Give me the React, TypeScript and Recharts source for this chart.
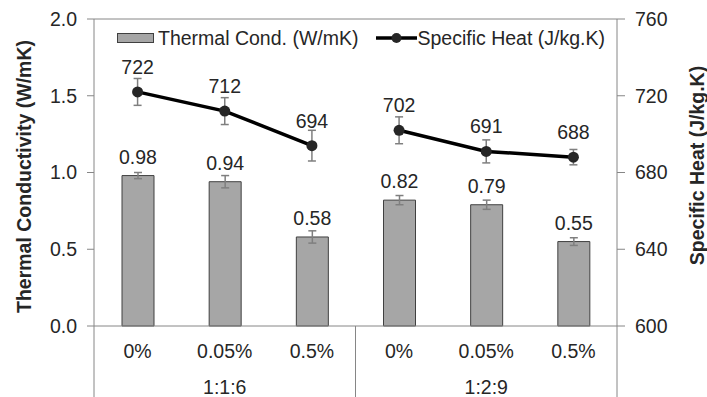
import {
  Bar,
  ComposedChart,
  ErrorBar,
  LabelList,
  Line,
  ReferenceLine,
  XAxis,
  YAxis,
} from "recharts";

const CATEGORIES = ["0%", "0.05%", "0.5%", "0%", "0.05%", "0.5%"];
const GROUPS = ["1:1:6", "1:1:6", "1:1:6", "1:2:9", "1:2:9", "1:2:9"];
const THERMAL_COND = [0.98, 0.94, 0.58, 0.82, 0.79, 0.55];
const THERMAL_ERR = [0.02, 0.04, 0.04, 0.03, 0.03, 0.025];
const SPECIFIC_HEAT = [722, 712, 694, 702, 691, 688];
const HEAT_ERR = [7, 7, 8, 7, 6, 4];
const LEFT_TICKS = [0, 0.5, 1, 1.5, 2];
const RIGHT_TICKS = [600, 640, 680, 720, 760];

const W = 707;
const H = 397;
const LEFT_W = 94;
const RIGHT_W = 90;
const XAXIS_H = 71;
const BAND = (W - LEFT_W - RIGHT_W) / CATEGORIES.length;

const AXIS = "#868686";
const TEXT = "#262626";
const FONT = 19.5;

// uma linha por grupo: a série de calor específico não liga 1:1:6 com 1:2:9
const groupNames = Array.from(new Set(GROUPS));
const data = CATEGORIES.map((cat, i) => {
  const row: Record<string, string | number | null> = {
    cat,
    tc: THERMAL_COND[i],
    tcErr: THERMAL_ERR[i],
  };
  groupNames.forEach((g, gi) => {
    row[`heat${gi}`] = GROUPS[i] === g ? SPECIFIC_HEAT[i] : null;
    row[`heatErr${gi}`] = GROUPS[i] === g ? HEAT_ERR[i] : null;
  });
  return row;
});

function CategoryTick(props: any) {
  const { x, y, payload } = props;
  const i: number = payload.index ?? props.index;
  const half = BAND / 2;
  const first = i === 0 || GROUPS[i] !== GROUPS[i - 1];
  let groupEnd = i;
  while (groupEnd + 1 < GROUPS.length && GROUPS[groupEnd + 1] === GROUPS[i]) groupEnd++;
  const groupCenter = x + ((groupEnd - i) / 2) * BAND;
  return (
    <g>
      <text x={x} y={y + 32} textAnchor="middle" fontSize={FONT} fill={TEXT}>
        {payload.value}
      </text>
      {first && (
        <>
          <line x1={x - half} x2={x - half} y1={y} y2={y + XAXIS_H} stroke={AXIS} />
          <text x={groupCenter} y={y + 68} textAnchor="middle" fontSize={FONT} fill={TEXT}>
            {GROUPS[i]}
          </text>
        </>
      )}
      {i === GROUPS.length - 1 && (
        <line x1={x + half} x2={x + half} y1={y} y2={y + XAXIS_H} stroke={AXIS} />
      )}
    </g>
  );
}

function AxisTitle({ viewBox, value, dx, dy }: any) {
  const cx = viewBox.x + dx;
  const cy = viewBox.y + viewBox.height / 2 + dy;
  return (
    <text
      x={cx}
      y={cy}
      transform={`rotate(-90 ${cx} ${cy})`}
      textAnchor="middle"
      dominantBaseline="central"
      fontSize={19.5}
      fontWeight="bold"
      fill={TEXT}
    >
      {value}
    </text>
  );
}

function LegendBox() {
  return (
    <div
      style={{
        position: "absolute",
        top: 28,
        left: 117,
        display: "flex",
        alignItems: "center",
        fontSize: FONT,
        color: TEXT,
        whiteSpace: "nowrap",
        height: 20,
      }}
    >
      <svg width={37} height={10} style={{ marginRight: 4 }}>
        <rect x={0.5} y={0.5} width={36} height={9} fill="#a6a6a6" stroke="#404040" />
      </svg>
      <span>Thermal Cond. (W/mK)</span>
      <svg width={41} height={12} style={{ marginLeft: 18 }}>
        <line x1={0} x2={41} y1={6} y2={6} stroke="#000" strokeWidth={3.5} />
        <circle cx={20.5} cy={6} r={5} fill="#262626" />
      </svg>
      <span>Specific Heat (J/kg.K)</span>
    </div>
  );
}

export default function App() {
  return (
    <div
      style={{
        position: "absolute",
        left: 0,
        top: 0,
        width: W,
        height: H,
        background: "#fff",
        fontFamily: '"Liberation Sans", Arial, sans-serif',
      }}
    >
      <ComposedChart width={W} height={H} data={data} margin={{ top: 19, right: 0, bottom: 0, left: 0 }}>
        <XAxis
          dataKey="cat"
          height={XAXIS_H}
          axisLine={{ stroke: AXIS }}
          tickLine={false}
          tickSize={0}
          tickMargin={0}
          interval={0}
          tick={<CategoryTick />}
        />
        <YAxis
          yAxisId="left"
          width={LEFT_W}
          domain={[0, 2]}
          ticks={LEFT_TICKS}
          axisLine={{ stroke: AXIS }}
          tickLine={{ stroke: AXIS }}
          tickSize={7}
          tickMargin={10}
          tick={{ fill: TEXT, fontSize: FONT }}
          tickFormatter={(v: number) => v.toFixed(1)}
          label={<AxisTitle value="Thermal Conductivity (W/mK)" dx={24} dy={4} />}
        />
        <YAxis
          yAxisId="right"
          orientation="right"
          width={RIGHT_W}
          domain={[600, 760]}
          ticks={RIGHT_TICKS}
          axisLine={{ stroke: AXIS }}
          tickLine={{ stroke: AXIS }}
          tickSize={8}
          tickMargin={10}
          tick={{ fill: TEXT, fontSize: FONT }}
          label={<AxisTitle value="Specific Heat (J/kg.K)" dx={80} dy={-7} />}
        />
        <ReferenceLine yAxisId="left" y={2} stroke={AXIS} />
        <Bar
          yAxisId="left"
          dataKey="tc"
          barSize={32}
          fill="#a6a6a6"
          stroke="#404040"
          strokeWidth={1}
          isAnimationActive={false}
        >
          <ErrorBar dataKey="tcErr" width={4} stroke="#7f7f7f" strokeWidth={1.5} />
          <LabelList
            dataKey="tc"
            position="top"
            offset={12}
            fill={TEXT}
            fontSize={FONT}
            formatter={(v: number) => v.toFixed(2)}
          />
        </Bar>
        {groupNames.map((g, gi) => (
          <Line
            key={g}
            yAxisId="right"
            dataKey={`heat${gi}`}
            stroke="#000"
            strokeWidth={3.5}
            dot={{ r: 5.5, fill: "#262626", stroke: "#262626", strokeWidth: 0 }}
            activeDot={false}
            connectNulls={false}
            isAnimationActive={false}
          >
            <ErrorBar dataKey={`heatErr${gi}`} width={4} stroke="#7f7f7f" strokeWidth={1.5} />
            <LabelList
              dataKey={`heat${gi}`}
              position="top"
              offset={18}
              fill={TEXT}
              fontSize={FONT}
            />
          </Line>
        ))}
      </ComposedChart>
      <LegendBox />
    </div>
  );
}
